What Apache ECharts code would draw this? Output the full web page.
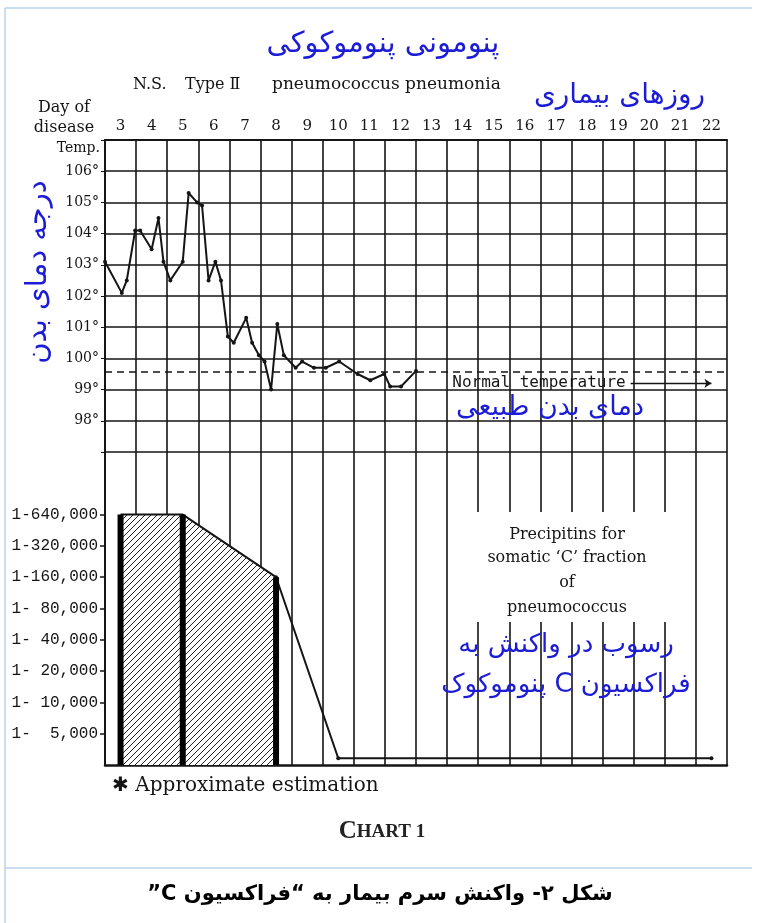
<!DOCTYPE html>
<html>
<head>
<meta charset="utf-8">
<script src="https://cdn.jsdelivr.net/npm/echarts@6/dist/echarts.min.js"></script>
<style>
  html, body { margin: 0; padding: 0; background: #fff; }
  #chart { width: 758px; height: 923px; }
</style>
</head>
<body>
<div id="chart"></div>
<script>
// day columns (top axis labels)
const dayLabels = ['3','4','5','6','7','8','9','10','11','12','13','14','15','16','17','18','19','20','21','22'];
// temperature chart ticks
const tempTicks = [98, 99, 100, 101, 102, 103, 104, 105, 106];
// temperature readings: time in days of disease, value in °F
const tempDays = [2.5, 3.04, 3.2, 3.47, 3.63, 4.0, 4.22, 4.38, 4.6, 5.0, 5.19, 5.46, 5.62, 5.83, 6.05, 6.23,
  6.45, 6.64, 7.04, 7.23, 7.45, 7.63, 7.84, 8.04, 8.25, 8.63, 8.84, 9.22, 9.6, 10.03, 10.62, 11.03,
  11.48, 11.67, 12.02, 12.5];
const temps = [103.1, 102.1, 102.5, 104.1, 104.1, 103.5, 104.5, 103.1, 102.5, 103.1, 105.3, 105.0, 104.9, 102.5, 103.1, 102.5,
  100.7, 100.5, 101.3, 100.5, 100.1, 99.9, 99.0, 101.1, 100.1, 99.7, 99.9, 99.7, 99.7, 99.9, 99.5, 99.3,
  99.5, 99.1, 99.1, 99.6];
const normalTemp = 99.57;
// precipitin titres
const titerLabels = ['1-  5,000', '1- 10,000', '1- 20,000', '1- 40,000', '1- 80,000', '1-160,000', '1-320,000', '1-640,000'];
const precipDays = [3, 5, 8, 10, 22];
const precipTiters = [640000, 640000, 160000, 2900, 2900];
const testedDays = [3, 5, 8];
const testedTiters = [640000, 640000, 160000];

const BLUE = '#1c1cd6';
const INK = '#151515';
const rtl = s => '\u202B' + s + '\u202C';
const pos = d => d - 2.5;                       // day -> column position
const level = t => Math.log2(t / 2500);          // titre -> dilution step

// hatch pattern for the shaded area
const hatch = document.createElement('canvas');
hatch.width = 6; hatch.height = 6;
(function () {
  const c = hatch.getContext('2d');
  c.fillStyle = '#fff'; c.fillRect(0, 0, 6, 6);
  c.strokeStyle = '#222'; c.lineWidth = 1;
  c.beginPath();
  c.moveTo(0, 6); c.lineTo(6, 0);
  c.moveTo(-1, 1); c.lineTo(1, -1);
  c.moveTo(5, 7); c.lineTo(7, 5);
  c.stroke();
})();

const chart = echarts.init(document.getElementById('chart'));

const gridLine = { show: true, lineStyle: { color: INK, width: 1.6 } };

const option = {
  animation: false,
  backgroundColor: '#fff',
  grid: [
    { left: 105, right: 31, top: 140, height: 312 },
    { left: 105, right: 31, top: 452, height: 313 }
  ],
  xAxis: [
    { type: 'value', gridIndex: 0, min: 0, max: 20, interval: 1,
      axisLine: { show: false }, axisTick: { show: false }, axisLabel: { show: false },
      splitLine: gridLine },
    { type: 'category', gridIndex: 0, position: 'top', data: dayLabels, boundaryGap: true,
      axisLine: { show: true, lineStyle: { color: INK, width: 2 } },
      axisTick: { show: false },
      axisLabel: { margin: 6, color: INK, fontFamily: 'DejaVu Serif', fontSize: 15 } },
    { type: 'value', gridIndex: 1, min: 0, max: 20, interval: 1,
      axisLine: { show: true, lineStyle: { color: INK, width: 2.5 } },
      axisTick: { show: false }, axisLabel: { show: false },
      splitLine: gridLine }
  ],
  yAxis: [
    { type: 'value', gridIndex: 0, min: 97, max: 107, interval: 1,
      axisLine: { show: true, lineStyle: { color: INK, width: 2 } },
      axisTick: { show: true, length: 4, lineStyle: { color: INK } },
      axisLabel: { margin: 6, color: INK, fontFamily: 'DejaVu Serif', fontSize: 14,
        formatter: v => tempTicks.indexOf(v) >= 0 ? v + '°' : '' },
      splitLine: gridLine },
    { type: 'value', gridIndex: 1, min: 0, max: 10, interval: 1,
      axisLine: { show: true, lineStyle: { color: INK, width: 2 } },
      axisTick: { show: true, length: 5, customValues: [1, 2, 3, 4, 5, 6, 7, 8], lineStyle: { color: INK, width: 1.5 } },
      axisLabel: { margin: 7, color: INK, fontFamily: 'Liberation Mono', fontSize: 16,
        customValues: [1, 2, 3, 4, 5, 6, 7, 8],
        formatter: v => titerLabels[v - 1] || '' },
      splitLine: { show: false } }
  ],
  series: [
    { name: 'temperature', type: 'line', xAxisIndex: 0, yAxisIndex: 0,
      data: tempDays.map((d, i) => [pos(d), temps[i]]),
      symbol: 'circle', symbolSize: 4,
      lineStyle: { color: INK, width: 2 }, itemStyle: { color: INK },
      z: 5,
      markLine: {
        silent: true, symbol: 'none', label: { show: false },
        data: [
          { yAxis: normalTemp, lineStyle: { color: INK, width: 1.6, type: [7, 5] } },
          [ { coord: [16.9, 99.2], symbol: 'none' },
            { coord: [19.5, 99.2], symbol: 'arrow', symbolSize: 7 } ]
        ],
        lineStyle: { color: INK, width: 1.3, type: 'solid' }
      } },
    { name: 'precipitins', type: 'line', xAxisIndex: 2, yAxisIndex: 1,
      data: precipDays.slice(0, 3).map((d, i) => [pos(d), level(precipTiters[i])]),
      symbol: 'none',
      lineStyle: { color: INK, width: 2 },
      areaStyle: { color: { image: hatch, repeat: 'repeat' }, opacity: 1 },
      z: 3 },
    { name: 'precipitins tail', type: 'line', xAxisIndex: 2, yAxisIndex: 1,
      data: precipDays.slice(2).map((d, i) => [pos(d), level(precipTiters[i + 2])]),
      symbol: 'circle', symbolSize: 4,
      lineStyle: { color: INK, width: 2 }, itemStyle: { color: INK },
      z: 3 },
    { name: 'tested', type: 'bar', xAxisIndex: 2, yAxisIndex: 1,
      data: testedDays.map((d, i) => [pos(d), level(testedTiters[i])]),
      barWidth: 6, itemStyle: { color: '#000' }, z: 4 }
  ],
  graphic: [
    // frame
    { type: 'line', shape: { x1: 5, y1: 8, x2: 752, y2: 8 }, style: { stroke: '#b9d3ec', lineWidth: 1.5 } },
    { type: 'line', shape: { x1: 5, y1: 8, x2: 5, y2: 923 }, style: { stroke: '#b9d3ec', lineWidth: 1.5 } },
    { type: 'line', shape: { x1: 5, y1: 868, x2: 752, y2: 868 }, style: { stroke: '#b9d3ec', lineWidth: 1.5 } },
    // titles
    { type: 'text', x: 383, y: 44, style: { text: rtl('پنومونی پنوموکوکی'), fill: BLUE, font: '29px "DejaVu Sans"', align: 'center', verticalAlign: 'middle' } },
    { type: 'text', x: 133, y: 85, style: { text: 'N.S.', fill: INK, font: '16px "DejaVu Serif"', verticalAlign: 'middle' } },
    { type: 'text', x: 185, y: 85, style: { text: 'Type Ⅱ', fill: INK, font: '16px "DejaVu Serif"', verticalAlign: 'middle' } },
    { type: 'text', x: 272, y: 85, style: { text: 'pneumococcus pneumonia', fill: INK, font: '17px "DejaVu Serif"', verticalAlign: 'middle' } },
    { type: 'text', x: 705, y: 96, style: { text: rtl('روزهای بیماری'), fill: BLUE, font: '28px "DejaVu Sans"', align: 'right', verticalAlign: 'middle' } },
    { type: 'text', x: 64, y: 108, style: { text: 'Day of', fill: INK, font: '16px "DejaVu Serif"', align: 'center', verticalAlign: 'middle' } },
    { type: 'text', x: 64, y: 128, style: { text: 'disease', fill: INK, font: '16px "DejaVu Serif"', align: 'center', verticalAlign: 'middle' } },
    { type: 'text', x: 100, y: 148, style: { text: 'Temp.', fill: INK, font: '14px "DejaVu Serif"', align: 'right', verticalAlign: 'middle' } },
    { type: 'text', x: 38, y: 272, rotation: Math.PI / 2, style: { text: rtl('درجه دمای بدن'), fill: BLUE, font: '29px "DejaVu Sans"', align: 'center', verticalAlign: 'middle' } },
    // normal temperature note
    { type: 'text', x: 539, y: 383, z: 10, style: { text: 'Normal temperature', fill: INK, font: '16px "DejaVu Sans Mono"', align: 'center', verticalAlign: 'middle' } },
    { type: 'text', x: 550, y: 408, z: 10, style: { text: rtl('دمای بدن طبیعی'), fill: BLUE, font: '27px "DejaVu Sans"', align: 'center', verticalAlign: 'middle' } },
    // precipitin note
    { type: 'rect', z: 9, shape: { x: 470, y: 512, width: 210, height: 110 }, style: { fill: '#fff' } },
    { type: 'text', x: 567, y: 535, z: 10, style: { text: 'Precipitins for', fill: INK, font: '16px "DejaVu Serif"', align: 'center', verticalAlign: 'middle' } },
    { type: 'text', x: 567, y: 558, z: 10, style: { text: 'somatic ‘C’ fraction', fill: INK, font: '16px "DejaVu Serif"', align: 'center', verticalAlign: 'middle' } },
    { type: 'text', x: 567, y: 583, z: 10, style: { text: 'of', fill: INK, font: '16px "DejaVu Serif"', align: 'center', verticalAlign: 'middle' } },
    { type: 'text', x: 567, y: 608, z: 10, style: { text: 'pneumococcus', fill: INK, font: '16px "DejaVu Serif"', align: 'center', verticalAlign: 'middle' } },
    { type: 'text', x: 566, y: 645, z: 10, style: { text: rtl('رسوب در واکنش به'), fill: BLUE, font: '26px "DejaVu Sans"', align: 'center', verticalAlign: 'middle' } },
    { type: 'text', x: 566, y: 685, z: 10, style: { text: rtl('فراکسیون C پنوموکوک'), fill: BLUE, font: '26px "DejaVu Sans"', align: 'center', verticalAlign: 'middle' } },
    // footnotes
    { type: 'text', x: 112, y: 786, style: { text: '✱ Approximate estimation', fill: INK, font: '20px "DejaVu Serif"', verticalAlign: 'middle' } },
    { type: 'text', x: 382, y: 832, style: { text: '{c|C}{h|HART 1}', align: 'center', verticalAlign: 'middle',
        rich: { c: { font: 'bold 25px "Liberation Serif"', fill: '#222' }, h: { font: 'bold 19px "Liberation Serif"', fill: '#222' } } } },
    { type: 'text', x: 380, y: 895, style: { text: rtl('شکل ۲- واکنش سرم بیمار به “فراکسیون C”'), fill: '#000', font: 'bold 21px "DejaVu Sans"', align: 'center', verticalAlign: 'middle' } }
  ]
};

chart.setOption(option);
window.onresize = function () {
  chart.resize();
};
</script>
</body>
</html>
